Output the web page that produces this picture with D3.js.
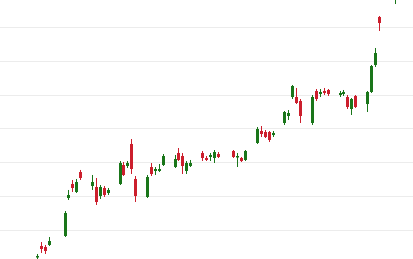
<!DOCTYPE html>
<html>
<head>
<meta charset="utf-8">
<script src="https://cdn.jsdelivr.net/npm/d3@7"></script>
<style>
  html, body { margin: 0; padding: 0; background: #ffffff; }
  svg { display: block; }
</style>
</head>
<body>
<svg id="chart" width="413" height="259"></svg>
<script>
// Daily OHLC prices
const dates = [
  "2021-03-29","2021-03-30","2021-03-31","2021-04-01",
  "2021-04-05","2021-04-06","2021-04-07","2021-04-08","2021-04-09",
  "2021-04-12","2021-04-13","2021-04-14","2021-04-15","2021-04-16",
  "2021-04-19","2021-04-20","2021-04-21","2021-04-22","2021-04-23",
  "2021-04-26","2021-04-27","2021-04-28","2021-04-29","2021-04-30",
  "2021-05-03","2021-05-04","2021-05-05","2021-05-06","2021-05-07",
  "2021-05-10","2021-05-11","2021-05-12","2021-05-13","2021-05-14",
  "2021-05-18","2021-05-19","2021-05-20","2021-05-21",
  "2021-05-24","2021-05-25","2021-05-26","2021-05-27","2021-05-28",
  "2021-05-31","2021-06-01","2021-06-02","2021-06-03","2021-06-04",
  "2021-06-07","2021-06-08","2021-06-09","2021-06-10","2021-06-11",
  "2021-06-14","2021-06-15","2021-06-16","2021-06-17","2021-06-18",
  "2021-06-21","2021-06-22","2021-06-23","2021-06-24",
  "2021-06-28"
];
const open = [
  2.02, 5.27, 4.98, 5.57,
  8.23, 19.45, 23.59, 21.23, 27.13,
  23.00, 22.70, 20.04, 22.41, 20.93,
  23.59, 29.20, 28.91, 35.41, 25.07,
  19.75, 28.61, 27.43, 27.43, 29.20,
  28.61, 32.75, 31.86, 27.43, 28.91,
  32.75, 31.27, 31.57, 31.27, 32.45,
  33.34, 31.57, 31.27, 30.68,
  35.70, 39.25, 38.95, 38.95, 38.06,
  41.61, 43.68, 49.29, 49.29, 48.11,
  41.61, 51.06, 50.18, 51.06, 51.36,
  49.88, 50.18, 49.29, 45.74, 49.59,
  47.22, 50.77, 58.74, 72.93,
  79.5
];
const high = [
  2.91, 6.45, 5.57, 7.93,
  15.61, 21.82, 24.77, 25.07, 27.73,
  26.25, 25.36, 23.29, 23.00, 22.41,
  30.38, 30.09, 30.38, 36.88, 25.95,
  26.25, 29.79, 28.61, 29.50, 32.45,
  32.16, 34.22, 32.75, 30.38, 30.68,
  33.34, 31.86, 32.75, 33.63, 33.04,
  33.63, 32.75, 31.57, 33.63,
  40.43, 40.72, 39.54, 39.25, 39.25,
  45.15, 45.45, 52.84, 51.95, 48.70,
  49.88, 51.65, 51.65, 51.95, 51.65,
  51.06, 51.36, 49.88, 48.99, 49.88,
  51.06, 58.74, 63.77, 73.22,
  82.0
];
const low = [
  1.43, 3.21, 2.91, 5.27,
  7.93, 18.86, 21.23, 20.93, 24.77,
  21.82, 17.39, 19.16, 19.75, 20.34,
  23.29, 25.95, 28.32, 26.54, 18.27,
  19.45, 25.95, 26.25, 27.13, 28.91,
  28.32, 30.38, 26.54, 26.54, 28.61,
  30.38, 30.38, 30.38, 29.79, 31.27,
  31.27, 28.61, 30.09, 30.38,
  35.41, 37.47, 37.18, 36.00, 37.47,
  41.02, 42.50, 48.70, 47.22, 41.61,
  41.02, 48.11, 49.29, 49.88, 49.59,
  49.29, 49.59, 45.74, 43.97, 46.04,
  44.86, 50.47, 58.15, 68.79,
  76.76
];
const close = [
  2.32, 4.39, 3.80, 6.75,
  15.02, 20.34, 22.41, 24.18, 25.36,
  24.18, 18.27, 22.70, 20.34, 21.82,
  29.79, 26.25, 29.79, 28.02, 20.04,
  25.66, 26.54, 28.02, 28.02, 31.86,
  30.97, 30.68, 28.91, 29.79, 29.79,
  31.27, 30.68, 32.16, 33.04, 31.57,
  31.57, 31.86, 30.38, 33.34,
  39.84, 38.36, 37.47, 36.59, 38.66,
  44.86, 44.56, 52.54, 47.52, 43.68,
  49.29, 48.70, 50.77, 50.47, 50.18,
  50.47, 50.77, 46.34, 48.70, 46.34,
  50.77, 58.45, 62.29, 71.15,
  81.0
];
const gridValues = [0, 10, 20, 30, 40, 50, 60, 70, 80];

const upColor = "#1a761a";
const downColor = "#cc1f2d";

const width = 413, height = 259;
const parse = d3.timeParse("%Y-%m-%d");

const bars = dates.map((d, i) => ({
  date: parse(d), open: open[i], high: high[i], low: low[i], close: close[i]
}));

const x = d3.scaleTime()
  .domain([parse("2021-03-29"), parse("2021-06-28")])
  .range([37, 394.5]);

const y = d3.scaleLinear()
  .domain([0, 80])
  .range([263.85, -6.95]);

const svg = d3.select("#chart");

// horizontal grid
svg.append("g")
  .selectAll("line")
  .data(gridValues)
  .join("line")
  .attr("x1", 0)
  .attr("x2", width)
  .attr("y1", d => Math.round(y(d)) + 0.5)
  .attr("y2", d => Math.round(y(d)) + 0.5)
  .attr("stroke", "#ececec")
  .attr("stroke-width", 1);

// candles
const bodyW = 3;
const candle = svg.append("g")
  .selectAll("g")
  .data(bars)
  .join("g")
  .attr("transform", d => `translate(${Math.round(x(d.date))},0)`);

candle.append("line")
  .attr("x1", 0.5).attr("x2", 0.5)
  .attr("y1", d => y(d.high))
  .attr("y2", d => y(d.low))
  .attr("stroke", d => d.close >= d.open ? upColor : downColor)
  .attr("stroke-width", 1);

candle.append("rect")
  .attr("x", 0.5 - bodyW / 2)
  .attr("width", bodyW)
  .attr("y", d => y(Math.max(d.open, d.close)))
  .attr("height", d => Math.max(1.5, Math.abs(y(d.open) - y(d.close))))
  .attr("fill", d => d.close >= d.open ? upColor : downColor);
</script>
</body>
</html>
